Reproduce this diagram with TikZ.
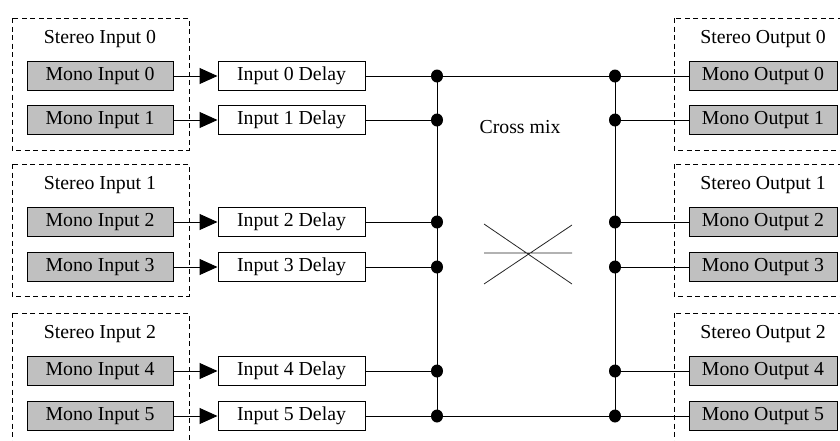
\documentclass[tikz,border=0pt]{standalone}
\usepackage{fontspec}
\setmainfont{Liberation Serif}
\usetikzlibrary{arrows.meta}

\definecolor{monogrey}{RGB}{192,192,192}

\tikzset{
    monobox/.style={draw, line width=1pt, fill=monogrey, minimum width=146, minimum height=29, inner sep=0pt},
    delaybox/.style={draw, line width=1pt, fill=white, minimum width=147, minimum height=29, inner sep=0pt},
    stereobox/.style={draw, line width=0.9pt, dash pattern=on 5pt off 3.5pt},
    wire/.style={line width=1pt},
    feed/.style={line width=1pt, -{Triangle[length=18pt, width=16pt]}}
}

\begin{document}
\begin{tikzpicture}[x=1pt, y=-1pt, font=\fontsize{19.8}{22}\selectfont]
    \useasboundingbox (0,0) rectangle (840,440);
    \clip (0,0) rectangle (840,440);

    % stereo groups, left and right
    \foreach \g/\y in {0/76, 1/222, 2/371} {
        \draw[stereobox] (12,\y-58) rectangle (189,\y+74);
        \node (sin\g) at (100,\y-37) {Stereo Input \g};
        \draw[stereobox] (674,\y-58) rectangle (860,\y+74);
        \node (sout\g) at (763,\y-37) {Stereo Output \g};
    }

    % mono channels through the delays
    \foreach \i/\y in {0/76, 1/120, 2/222, 3/267, 4/371, 5/416} {
        \node[monobox] (min\i) at (100,\y) {Mono Input \i};
        \node[delaybox] (dly\i) at (291.5,\y) {Input \i\ Delay};
        \node[monobox, minimum width=148] (mout\i) at (763,\y) {Mono Output \i};
        \coordinate (jl\i) at (437,\y);
        \coordinate (jr\i) at (615,\y);
        \draw[feed] (min\i) -- (dly\i);
        \draw[wire] (dly\i) -- (jl\i);
        \draw[wire] (jr\i) -- (mout\i);
    }

    % cross mix bus
    \draw[wire] (jl0) -- (jl5);
    \draw[wire] (jr0) -- (jr5);
    \draw[wire] (jl0) -- (jr0);
    \draw[wire] (jl5) -- (jr5);
    \foreach \i in {0,...,5} {
        \fill (jl\i) ellipse (6pt and 6.5pt);
        \fill (jr\i) ellipse (6pt and 6.5pt);
    }
    \node (mix) at (520,127) {Cross mix};
    \draw[line width=0.8pt, black!85] (484,224) -- (572,284) (484,284) -- (572,225) (484,253) -- (572,253);
\end{tikzpicture}
\end{document}
